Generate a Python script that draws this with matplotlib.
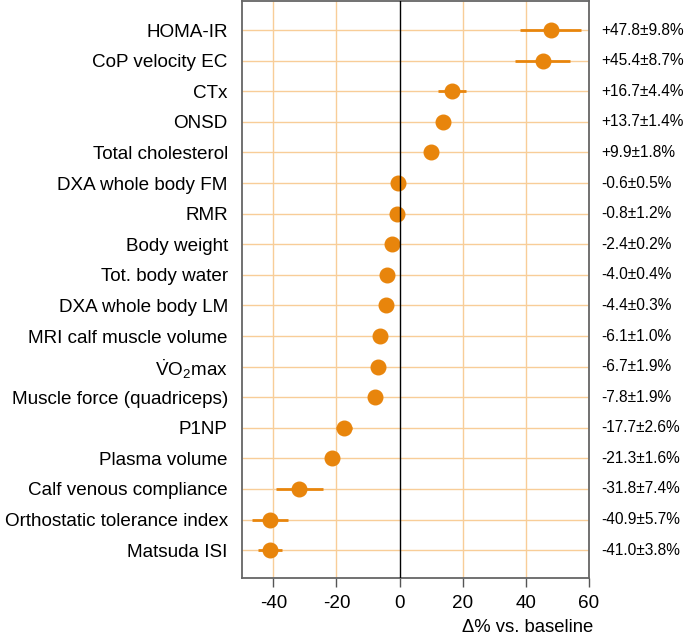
import numpy as np
import matplotlib
matplotlib.use("Agg")
import matplotlib.pyplot as plt
import matplotlib.transforms as mtransforms

plt.rcParams['font.family'] = ['Liberation Sans', 'DejaVu Sans']
plt.rcParams['mathtext.fontset'] = 'custom'
plt.rcParams['mathtext.rm'] = 'Liberation Sans'
plt.rcParams['mathtext.it'] = 'Liberation Sans:italic'
plt.rcParams['axes.unicode_minus'] = False

# Datos (cambio % respecto a la línea base)
variables = ['HOMA-IR', 'CoP velocity EC', 'CTx', 'ONSD', 'Total cholesterol',
             'DXA whole body FM', 'RMR', 'Body weight', 'Tot. body water',
             'DXA whole body LM', 'MRI calf muscle volume',
             r'$\dot{\mathrm{V}}\mathrm{O}_{2}\mathrm{max}$',
             'Muscle force (quadriceps)', 'P1NP', 'Plasma volume',
             'Calf venous compliance', 'Orthostatic tolerance index', 'Matsuda ISI']
media = [47.8, 45.4, 16.7, 13.7, 9.9, -0.6, -0.8, -2.4, -4.0, -4.4, -6.1, -6.7,
         -7.8, -17.7, -21.3, -31.8, -40.9, -41.0]
error = [9.8, 8.7, 4.4, 1.4, 1.8, 0.5, 1.2, 0.2, 0.4, 0.3, 1.0, 1.9,
         1.9, 2.6, 1.6, 7.4, 5.7, 3.8]
etiquetas = ['+47.8±9.8%', '+45.4±8.7%', '+16.7±4.4%', '+13.7±1.4%', '+9.9±1.8%',
             '-0.6±0.5%', '-0.8±1.2%', '-2.4±0.2%', '-4.0±0.4%', '-4.4±0.3%',
             '-6.1±1.0%', '-6.7±1.9%', '-7.8±1.9%', '-17.7±2.6%', '-21.3±1.6%',
             '-31.8±7.4%', '-40.9±5.7%', '-41.0±3.8%']
xticks = [-40, -20, 0, 20, 40, 60]

naranja = '#E8850C'
rejilla = '#F8CD98'

fig = plt.figure(figsize=(6.85, 6.37), dpi=100)
ax = fig.add_axes([0.3529, 0.0931, 0.8599 - 0.3529, 0.9984 - 0.0931])

y = np.arange(len(variables))

# Rejilla
for yi in y:
    ax.axhline(yi, color=rejilla, lw=1, zorder=0)
for xt in xticks:
    if xt != 0:
        ax.axvline(xt, color=rejilla, lw=1, zorder=0)

ax.errorbar(media, y, xerr=error, fmt='o', color=naranja, ms=10.5,
            elinewidth=2, capsize=0, zorder=2)
ax.axvline(0, color='black', lw=1, zorder=3)

ax.set_xlim(-50, 60)
ax.set_ylim(17.9, -0.95)
ax.set_yticks(y)
ax.set_yticklabels(variables, fontsize=13.6)
ax.tick_params(axis='y', length=0, pad=10)
ax.set_xticks(xticks)
ax.tick_params(axis='x', length=6.5, width=1, color='#555555', labelsize=13.6, pad=6)

for s in ax.spines.values():
    s.set_color('#666666')
    s.set_linewidth(1.3)

trans = mtransforms.blended_transform_factory(ax.transAxes, ax.transData)
for yi, t in zip(y, etiquetas):
    ax.text(1.034, yi, t, transform=trans, ha='left', va='center', fontsize=11.2)

ax.set_xlabel('Δ% vs. baseline', fontsize=13.3)
ax.xaxis.set_label_coords(1.012, -0.071)
ax.xaxis.label.set_horizontalalignment('right')

fig.savefig('out.png', dpi=100)
